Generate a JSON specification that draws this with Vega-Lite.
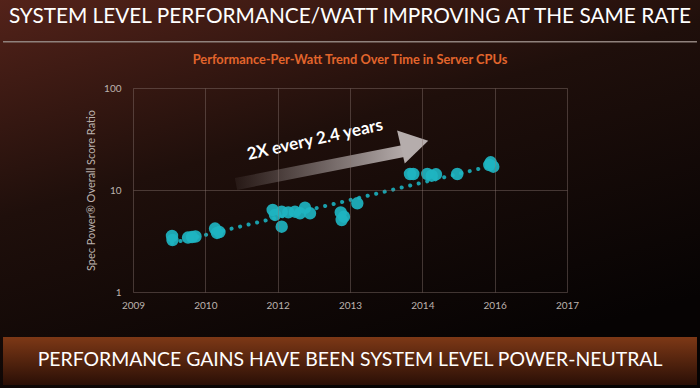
{
  "$schema": "https://vega.github.io/schema/vega-lite/v6.json",
  "width": 434,
  "height": 204,
  "autosize": "none",
  "padding": {"left": 133, "top": 88, "right": 133, "bottom": 96},
  "background": "#140a07",
  "config": {
    "view": {"stroke": null},
    "axis": {
      "domain": false,
      "ticks": false,
      "grid": true,
      "gridColor": "#8a7872",
      "gridOpacity": 0.42,
      "gridWidth": 1,
      "labelFont": "Lato",
      "labelFontSize": 10,
      "labelColor": "#bdb3ae",
      "titleFont": "Lato",
      "titleColor": "#bdb3ae"
    }
  },
  "datasets": {
    "points": [
      {"year": 2009.719, "ratio": 3.54},
      {"year": 2009.728, "ratio": 3.23},
      {"year": 2010.014, "ratio": 3.42},
      {"year": 2010.088, "ratio": 3.46},
      {"year": 2010.152, "ratio": 3.5},
      {"year": 2010.512, "ratio": 4.19},
      {"year": 2010.548, "ratio": 3.79},
      {"year": 2010.594, "ratio": 3.87},
      {"year": 2011.575, "ratio": 6.37},
      {"year": 2011.618, "ratio": 5.69},
      {"year": 2011.741, "ratio": 6.13},
      {"year": 2011.863, "ratio": 6.04},
      {"year": 2011.986, "ratio": 6.13},
      {"year": 2012.078, "ratio": 5.91},
      {"year": 2012.17, "ratio": 6.7},
      {"year": 2012.263, "ratio": 5.91},
      {"year": 2011.741, "ratio": 4.37},
      {"year": 2012.829, "ratio": 6.04},
      {"year": 2012.889, "ratio": 5.47},
      {"year": 2012.847, "ratio": 5.08},
      {"year": 2013.135, "ratio": 7.41},
      {"year": 2014.106, "ratio": 14.35},
      {"year": 2014.167, "ratio": 14.35},
      {"year": 2014.425, "ratio": 14.35},
      {"year": 2014.506, "ratio": 13.8},
      {"year": 2014.585, "ratio": 14.26},
      {"year": 2014.978, "ratio": 14.35},
      {"year": 2015.568, "ratio": 17.58},
      {"year": 2015.641, "ratio": 16.92},
      {"year": 2015.593, "ratio": 18.69}
    ],
    "trend": [
      {"year": 2009.719, "ratio": 3.02},
      {"year": 2015.599, "ratio": 17.2}
    ],
    "arrow": [
      {"year": 2010.899, "ratio": 11.45},
      {"year": 2013.977, "ratio": 24.1}
    ],
    "head": [
      {"year": 2014.183, "ratio": 28.3}
    ]
  },
  "layer": [
    {
      "data": {"values": [{}]},
      "mark": {"type": "rect", "color": {"gradient": "linear", "x1": 0, "y1": 0, "x2": 0.5, "y2": 1, "stops": [{"offset": 0, "color": "#55231a"}, {"offset": 0.45, "color": "#1f0f0b"}, {"offset": 1, "color": "#060303"}]}},
      "encoding": {
        "x": {"datum": 2006.4, "type": "quantitative", "scale": {"domain": [2009, 2017], "nice": false, "zero": false}, "axis": {"zindex": 1, "values": [2009, 2010.3333, 2011.6667, 2013, 2014.3333, 2015.6667, 2017], "labelExpr": "format(round(datum.value), 'd')", "title": null, "labelPadding": 8, "labelFlush": false, "labelOverlap": false}},
        "x2": {"datum": 2019.6},
        "y": {"datum": 800, "type": "quantitative", "scale": {"type": "log", "domain": [1, 100], "nice": false}, "axis": {"zindex": 1, "values": [1, 10, 100], "format": "d", "title": "Spec Power® Overall Score Ratio", "titleFontSize": 11, "titleFontWeight": "normal", "titlePadding": 7, "labelPadding": 12, "labelFlush": false, "labelOverlap": false}},
        "y2": {"datum": 0.1}
      }
    },
    {
      "data": {"values": [{}]},
      "mark": {"type": "rule", "color": "#8f817c", "strokeWidth": 1.5},
      "encoding": {
        "x": {"datum": 2006.604, "type": "quantitative", "scale": {"domain": [2009, 2017], "nice": false, "zero": false}, "axis": {"zindex": 1, "values": [2009, 2010.3333, 2011.6667, 2013, 2014.3333, 2015.6667, 2017], "labelExpr": "format(round(datum.value), 'd')", "title": null, "labelPadding": 8, "labelFlush": false, "labelOverlap": false}},
        "x2": {"datum": 2019.396},
        "y": {"datum": 284.4, "type": "quantitative", "scale": {"type": "log", "domain": [1, 100], "nice": false}, "axis": {"zindex": 1, "values": [1, 10, 100], "format": "d", "title": "Spec Power® Overall Score Ratio", "titleFontSize": 11, "titleFontWeight": "normal", "titlePadding": 7, "labelPadding": 12, "labelFlush": false, "labelOverlap": false}}
      }
    },
    {
      "data": {"values": [{}]},
      "mark": {"type": "rect", "color": {"gradient": "linear", "x1": 0, "y1": 0, "x2": 0, "y2": 1, "stops": [{"offset": 0, "color": "#7d3816"}, {"offset": 1, "color": "#2a0f06"}]}},
      "encoding": {
        "x": {"datum": 2006.604, "type": "quantitative", "scale": {"domain": [2009, 2017], "nice": false, "zero": false}, "axis": {"zindex": 1, "values": [2009, 2010.3333, 2011.6667, 2013, 2014.3333, 2015.6667, 2017], "labelExpr": "format(round(datum.value), 'd')", "title": null, "labelPadding": 8, "labelFlush": false, "labelOverlap": false}},
        "x2": {"datum": 2019.396},
        "y": {"datum": 0.362, "type": "quantitative", "scale": {"type": "log", "domain": [1, 100], "nice": false}, "axis": {"zindex": 1, "values": [1, 10, 100], "format": "d", "title": "Spec Power® Overall Score Ratio", "titleFontSize": 11, "titleFontWeight": "normal", "titlePadding": 7, "labelPadding": 12, "labelFlush": false, "labelOverlap": false}},
        "y2": {"datum": 0.1225}
      }
    },
    {
      "data": {"name": "arrow"},
      "mark": {"type": "line", "strokeWidth": 12, "strokeCap": "butt", "color": {"gradient": "linear", "x1": 0, "y1": 0, "x2": 1, "y2": 0, "stops": [{"offset": 0, "color": "rgba(170,160,160,0.08)"}, {"offset": 1, "color": "#b3aaa9"}]}},
      "encoding": {
        "x": {"field": "year", "type": "quantitative", "scale": {"domain": [2009, 2017], "nice": false, "zero": false}, "axis": {"zindex": 1, "values": [2009, 2010.3333, 2011.6667, 2013, 2014.3333, 2015.6667, 2017], "labelExpr": "format(round(datum.value), 'd')", "title": null, "labelPadding": 8, "labelFlush": false, "labelOverlap": false}},
        "y": {"field": "ratio", "type": "quantitative", "scale": {"type": "log", "domain": [1, 100], "nice": false}, "axis": {"zindex": 1, "values": [1, 10, 100], "format": "d", "title": "Spec Power® Overall Score Ratio", "titleFontSize": 11, "titleFontWeight": "normal", "titlePadding": 7, "labelPadding": 12, "labelFlush": false, "labelOverlap": false}}
      }
    },
    {
      "data": {"name": "head"},
      "mark": {"type": "point", "shape": "M-0.8,-1L0.85,0L-0.8,1Z", "size": 1156, "filled": true, "opacity": 1, "color": "#b5adac", "angle": -13},
      "encoding": {
        "x": {"field": "year", "type": "quantitative", "scale": {"domain": [2009, 2017], "nice": false, "zero": false}, "axis": {"zindex": 1, "values": [2009, 2010.3333, 2011.6667, 2013, 2014.3333, 2015.6667, 2017], "labelExpr": "format(round(datum.value), 'd')", "title": null, "labelPadding": 8, "labelFlush": false, "labelOverlap": false}},
        "y": {"field": "ratio", "type": "quantitative", "scale": {"type": "log", "domain": [1, 100], "nice": false}, "axis": {"zindex": 1, "values": [1, 10, 100], "format": "d", "title": "Spec Power® Overall Score Ratio", "titleFontSize": 11, "titleFontWeight": "normal", "titlePadding": 7, "labelPadding": 12, "labelFlush": false, "labelOverlap": false}}
      }
    },
    {
      "data": {"values": [{}]},
      "mark": {"type": "text", "text": "2X every 2.4 years", "font": "Lato", "fontSize": 17, "fontWeight": "bold", "color": "#ffffff", "angle": -12.5, "align": "center", "baseline": "middle"},
      "encoding": {
        "x": {"datum": 2012.355, "type": "quantitative", "scale": {"domain": [2009, 2017], "nice": false, "zero": false}, "axis": {"zindex": 1, "values": [2009, 2010.3333, 2011.6667, 2013, 2014.3333, 2015.6667, 2017], "labelExpr": "format(round(datum.value), 'd')", "title": null, "labelPadding": 8, "labelFlush": false, "labelOverlap": false}},
        "y": {"datum": 30.9, "type": "quantitative", "scale": {"type": "log", "domain": [1, 100], "nice": false}, "axis": {"zindex": 1, "values": [1, 10, 100], "format": "d", "title": "Spec Power® Overall Score Ratio", "titleFontSize": 11, "titleFontWeight": "normal", "titlePadding": 7, "labelPadding": 12, "labelFlush": false, "labelOverlap": false}}
      }
    },
    {
      "data": {"name": "trend"},
      "mark": {"type": "line", "strokeWidth": 4, "strokeCap": "round", "strokeDash": [0.1, 8.65], "color": "#1a9fab"},
      "encoding": {
        "x": {"field": "year", "type": "quantitative", "scale": {"domain": [2009, 2017], "nice": false, "zero": false}, "axis": {"zindex": 1, "values": [2009, 2010.3333, 2011.6667, 2013, 2014.3333, 2015.6667, 2017], "labelExpr": "format(round(datum.value), 'd')", "title": null, "labelPadding": 8, "labelFlush": false, "labelOverlap": false}},
        "y": {"field": "ratio", "type": "quantitative", "scale": {"type": "log", "domain": [1, 100], "nice": false}, "axis": {"zindex": 1, "values": [1, 10, 100], "format": "d", "title": "Spec Power® Overall Score Ratio", "titleFontSize": 11, "titleFontWeight": "normal", "titlePadding": 7, "labelPadding": 12, "labelFlush": false, "labelOverlap": false}}
      }
    },
    {
      "data": {"name": "points"},
      "mark": {"type": "circle", "size": 154, "color": "#1eb4c1", "opacity": 0.92},
      "encoding": {
        "x": {"field": "year", "type": "quantitative", "scale": {"domain": [2009, 2017], "nice": false, "zero": false}, "axis": {"zindex": 1, "values": [2009, 2010.3333, 2011.6667, 2013, 2014.3333, 2015.6667, 2017], "labelExpr": "format(round(datum.value), 'd')", "title": null, "labelPadding": 8, "labelFlush": false, "labelOverlap": false}},
        "y": {"field": "ratio", "type": "quantitative", "scale": {"type": "log", "domain": [1, 100], "nice": false}, "axis": {"zindex": 1, "values": [1, 10, 100], "format": "d", "title": "Spec Power® Overall Score Ratio", "titleFontSize": 11, "titleFontWeight": "normal", "titlePadding": 7, "labelPadding": 12, "labelFlush": false, "labelOverlap": false}}
      }
    },
    {
      "data": {"values": [{}]},
      "mark": {"type": "text", "text": "SYSTEM LEVEL PERFORMANCE/WATT IMPROVING AT THE SAME RATE", "font": "Lato", "fontSize": 20.8, "color": "#ffffff", "align": "center", "baseline": "middle"},
      "encoding": {
        "x": {"datum": 2013, "type": "quantitative", "scale": {"domain": [2009, 2017], "nice": false, "zero": false}, "axis": {"zindex": 1, "values": [2009, 2010.3333, 2011.6667, 2013, 2014.3333, 2015.6667, 2017], "labelExpr": "format(round(datum.value), 'd')", "title": null, "labelPadding": 8, "labelFlush": false, "labelOverlap": false}},
        "y": {"datum": 502.3, "type": "quantitative", "scale": {"type": "log", "domain": [1, 100], "nice": false}, "axis": {"zindex": 1, "values": [1, 10, 100], "format": "d", "title": "Spec Power® Overall Score Ratio", "titleFontSize": 11, "titleFontWeight": "normal", "titlePadding": 7, "labelPadding": 12, "labelFlush": false, "labelOverlap": false}}
      }
    },
    {
      "data": {"values": [{}]},
      "mark": {"type": "text", "text": "Performance-Per-Watt Trend Over Time in Server CPUs", "font": "Lato", "fontSize": 12.8, "fontWeight": "bold", "color": "#e2652c", "align": "center", "baseline": "middle"},
      "encoding": {
        "x": {"datum": 2013, "type": "quantitative", "scale": {"domain": [2009, 2017], "nice": false, "zero": false}, "axis": {"zindex": 1, "values": [2009, 2010.3333, 2011.6667, 2013, 2014.3333, 2015.6667, 2017], "labelExpr": "format(round(datum.value), 'd')", "title": null, "labelPadding": 8, "labelFlush": false, "labelOverlap": false}},
        "y": {"datum": 188.2, "type": "quantitative", "scale": {"type": "log", "domain": [1, 100], "nice": false}, "axis": {"zindex": 1, "values": [1, 10, 100], "format": "d", "title": "Spec Power® Overall Score Ratio", "titleFontSize": 11, "titleFontWeight": "normal", "titlePadding": 7, "labelPadding": 12, "labelFlush": false, "labelOverlap": false}}
      }
    },
    {
      "data": {"values": [{}]},
      "mark": {"type": "text", "text": "PERFORMANCE GAINS HAVE BEEN SYSTEM LEVEL POWER-NEUTRAL", "font": "Lato", "fontSize": 19.4, "color": "#ffffff", "align": "center", "baseline": "middle"},
      "encoding": {
        "x": {"datum": 2013, "type": "quantitative", "scale": {"domain": [2009, 2017], "nice": false, "zero": false}, "axis": {"zindex": 1, "values": [2009, 2010.3333, 2011.6667, 2013, 2014.3333, 2015.6667, 2017], "labelExpr": "format(round(datum.value), 'd')", "title": null, "labelPadding": 8, "labelFlush": false, "labelOverlap": false}},
        "y": {"datum": 0.2154, "type": "quantitative", "scale": {"type": "log", "domain": [1, 100], "nice": false}, "axis": {"zindex": 1, "values": [1, 10, 100], "format": "d", "title": "Spec Power® Overall Score Ratio", "titleFontSize": 11, "titleFontWeight": "normal", "titlePadding": 7, "labelPadding": 12, "labelFlush": false, "labelOverlap": false}}
      }
    }
  ]
}
